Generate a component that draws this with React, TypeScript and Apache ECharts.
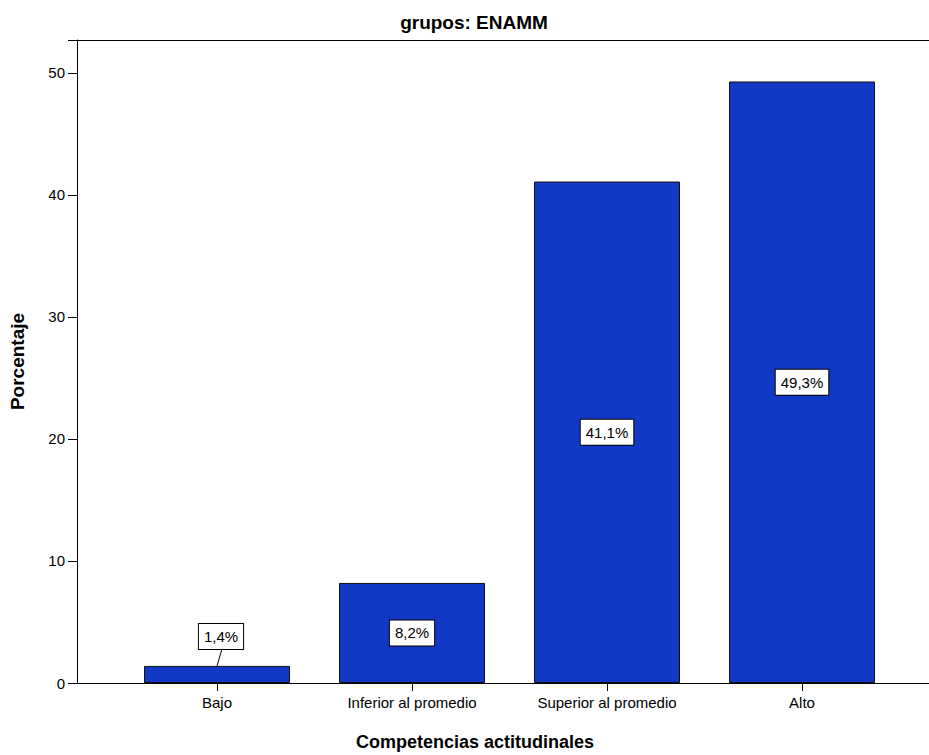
import React, { useEffect, useRef } from "react";
import * as echarts from "echarts";

const categories = ["Bajo", "Inferior al promedio", "Superior al promedio", "Alto"];
const percentages = [1.4, 8.2, 41.1, 49.3];
const barLabels = ["1,4%", "8,2%", "41,1%", "49,3%"];
const yTicks = [0, 10, 20, 30, 40, 50];

const Y_MAX = 52.7;
const FONT = "'Liberation Sans', Arial, sans-serif";

export default function App() {
  const ref = useRef<HTMLDivElement>(null);
  useEffect(() => {
    if (!ref.current) return;
    const chart = echarts.init(ref.current, undefined, { renderer: "svg" });
    const labelBox = {
      backgroundColor: "#ffffff",
      borderColor: "#000000",
      borderWidth: 1,
      padding: [5, 5, 5, 5],
      color: "#000000",
      fontSize: 15,
      fontFamily: FONT,
    };
    chart.setOption({
      animation: false,
      backgroundColor: "#ffffff",
      title: [
        {
          text: "grupos: ENAMM",
          left: 469,
          top: 8,
          textAlign: "center",
          textStyle: { fontFamily: FONT, fontWeight: "bold", fontSize: 19, color: "#000" },
        },
        {
          text: "Competencias actitudinales",
          left: 470,
          top: 728,
          textAlign: "center",
          textStyle: { fontFamily: FONT, fontWeight: "bold", fontSize: 18, color: "#000" },
        },
      ],
      grid: [
        { left: 119.5, right: 29.5, top: 40, bottom: 72 },
        { left: 77, right: 0, top: 40, bottom: 72 },
      ],
      xAxis: [
        {
          type: "category",
          gridIndex: 0,
          data: categories,
          axisLine: { show: false },
          axisTick: { show: true, alignWithLabel: true, length: 8, lineStyle: { color: "#000" } },
          axisLabel: { color: "#000", fontSize: 15, fontFamily: FONT, margin: 12 },
        },
        {
          type: "value",
          gridIndex: 1,
          position: "bottom",
          min: 0,
          max: 1,
          axisLine: { show: true, lineStyle: { color: "#000", width: 1 } },
          axisTick: { show: false },
          axisLabel: { show: false },
          splitLine: { show: false },
        },
        {
          type: "value",
          gridIndex: 1,
          position: "top",
          min: 0,
          max: 1,
          axisLine: { show: true, lineStyle: { color: "#000", width: 1 } },
          axisTick: { show: false },
          axisLabel: { show: false },
          splitLine: { show: false },
        },
      ],
      yAxis: [
        {
          type: "value",
          gridIndex: 0,
          min: 0,
          max: Y_MAX,
          show: false,
        },
        {
          type: "value",
          gridIndex: 1,
          min: 0,
          max: Y_MAX,
          interval: 10,
          name: "Porcentaje",
          nameLocation: "middle",
          nameGap: 50,
          nameTextStyle: { fontFamily: FONT, fontWeight: "bold", fontSize: 19, color: "#000" },
          axisLine: { show: true, lineStyle: { color: "#000", width: 1 } },
          axisTick: { show: true, length: 9, lineStyle: { color: "#000" } },
          axisLabel: {
            color: "#000",
            fontSize: 15,
            fontFamily: FONT,
            margin: 12,
            formatter: (v: number) => (yTicks.includes(v) ? String(v) : ""),
          },
          splitLine: { show: false },
        },
      ],
      series: [
        {
          type: "bar",
          xAxisIndex: 0,
          yAxisIndex: 0,
          barWidth: 146,
          itemStyle: { color: "#1239c6", borderColor: "#111111", borderWidth: 1 },
          data: percentages.map((v, i) => ({
            value: v,
            label:
              i === 0
                ? { position: "top", distance: 17, offset: [4, 0] }
                : { position: "inside" },
          })),
          label: {
            show: true,
            ...labelBox,
            formatter: (p: any) => barLabels[p.dataIndex],
          },
          z: 2,
        },
        {
          type: "custom",
          xAxisIndex: 0,
          yAxisIndex: 0,
          data: [[0, percentages[0]]],
          silent: true,
          z: 3,
          renderItem: (params: any, api: any) => {
            const p = api.coord([api.value(0), api.value(1)]);
            return {
              type: "line",
              shape: { x1: p[0], y1: p[1], x2: p[0] + 5, y2: p[1] - 17 },
              style: { stroke: "#000", lineWidth: 1 },
            };
          },
        },
      ],
    });
    return () => chart.dispose();
  }, []);
  return <div ref={ref} style={{ width: 929, height: 755, position: "fixed", left: 0, top: 0 }} />;
}
